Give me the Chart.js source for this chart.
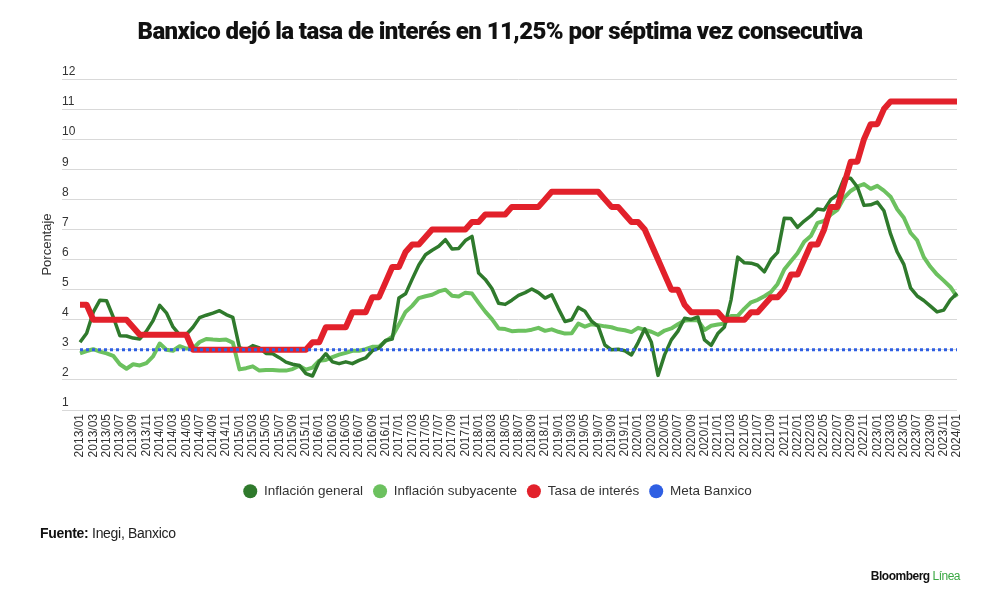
<!DOCTYPE html>
<html>
<head>
<meta charset="utf-8">
<script src="https://cdn.jsdelivr.net/npm/chart.js@4.4.1/dist/chart.umd.min.js"></script>
<style>
  html, body { margin: 0; padding: 0; background: #ffffff; }
  #wrap { position: relative; width: 1000px; height: 602px; overflow: hidden; background: #fff; }
  #chartBox { position: absolute; left: 0; top: 0; width: 1000px; height: 602px; }
  #title { position: absolute; top: 17px; left: 0; width: 1000px; text-align: center;
           font-family: Roboto, "Liberation Sans", Arial, sans-serif; font-weight: 900;
           font-size: 24px; line-height: 28px; color: #111; white-space: nowrap; }
  #src { position: absolute; left: 40px; top: 524px; font-family: "Liberation Sans", Arial, sans-serif;
         font-size: 14px; line-height: 18px; color: #222; letter-spacing: -0.3px; }
  #src b { font-weight: 700; color: #111; }
  #logo { position: absolute; right: 40px; top: 568px; font-family: "Liberation Sans", Arial, sans-serif;
          font-size: 12px; line-height: 16px; font-weight: 700; color: #111; letter-spacing: -0.5px; }
  #logo span { color: #3aa843; font-weight: 400; }
</style>
</head>
<body>
<div id="wrap">
  <div id="chartBox"><canvas id="c"></canvas></div>
  <div id="title">Banxico dejó la tasa de interés en 11,25% por séptima vez consecutiva</div>
  <div id="src"><b>Fuente:</b> Inegi, Banxico</div>
  <div id="logo">Bloomberg <span>Línea</span></div>
</div>
<script>
// ---- Data (monthly, 2013/01 – 2024/01) ----
const months = [
  "2013/01","2013/02","2013/03","2013/04","2013/05","2013/06","2013/07","2013/08","2013/09","2013/10","2013/11","2013/12",
  "2014/01","2014/02","2014/03","2014/04","2014/05","2014/06","2014/07","2014/08","2014/09","2014/10","2014/11","2014/12",
  "2015/01","2015/02","2015/03","2015/04","2015/05","2015/06","2015/07","2015/08","2015/09","2015/10","2015/11","2015/12",
  "2016/01","2016/02","2016/03","2016/04","2016/05","2016/06","2016/07","2016/08","2016/09","2016/10","2016/11","2016/12",
  "2017/01","2017/02","2017/03","2017/04","2017/05","2017/06","2017/07","2017/08","2017/09","2017/10","2017/11","2017/12",
  "2018/01","2018/02","2018/03","2018/04","2018/05","2018/06","2018/07","2018/08","2018/09","2018/10","2018/11","2018/12",
  "2019/01","2019/02","2019/03","2019/04","2019/05","2019/06","2019/07","2019/08","2019/09","2019/10","2019/11","2019/12",
  "2020/01","2020/02","2020/03","2020/04","2020/05","2020/06","2020/07","2020/08","2020/09","2020/10","2020/11","2020/12",
  "2021/01","2021/02","2021/03","2021/04","2021/05","2021/06","2021/07","2021/08","2021/09","2021/10","2021/11","2021/12",
  "2022/01","2022/02","2022/03","2022/04","2022/05","2022/06","2022/07","2022/08","2022/09","2022/10","2022/11","2022/12",
  "2023/01","2023/02","2023/03","2023/04","2023/05","2023/06","2023/07","2023/08","2023/09","2023/10","2023/11","2023/12",
  "2024/01"
];

const inflacionGeneral = [
  3.25, 3.55, 4.25, 4.65, 4.63, 4.09, 3.47, 3.46, 3.39, 3.36, 3.62, 3.97,
  4.48, 4.23, 3.76, 3.50, 3.51, 3.75, 4.07, 4.15, 4.22, 4.30, 4.17, 4.08,
  3.07, 3.00, 3.14, 3.06, 2.88, 2.87, 2.74, 2.59, 2.52, 2.48, 2.21, 2.13,
  2.61, 2.87, 2.60, 2.54, 2.60, 2.54, 2.65, 2.73, 2.97, 3.06, 3.31, 3.36,
  4.72, 4.86, 5.35, 5.82, 6.16, 6.31, 6.44, 6.66, 6.35, 6.37, 6.63, 6.77,
  5.55, 5.34, 5.04, 4.55, 4.51, 4.65, 4.81, 4.90, 5.02, 4.90, 4.72, 4.83,
  4.37, 3.94, 4.00, 4.41, 4.28, 3.95, 3.78, 3.16, 3.00, 3.02, 2.97, 2.83,
  3.24, 3.70, 3.25, 2.15, 2.84, 3.33, 3.62, 4.05, 4.01, 4.09, 3.33, 3.15,
  3.54, 3.76, 4.67, 6.08, 5.89, 5.88, 5.81, 5.59, 6.00, 6.24, 7.37, 7.36,
  7.07, 7.28, 7.45, 7.68, 7.65, 7.99, 8.15, 8.70, 8.70, 8.41, 7.80, 7.82,
  7.91, 7.62, 6.85, 6.25, 5.84, 5.06, 4.79, 4.64, 4.45, 4.26, 4.32, 4.66,
  4.88
];

const inflacionSubyacente = [
  2.88, 2.96, 3.02, 2.94, 2.88, 2.80, 2.52, 2.37, 2.52, 2.48, 2.56, 2.78,
  3.21, 3.00, 2.97, 3.12, 3.04, 3.04, 3.26, 3.36, 3.34, 3.33, 3.34, 3.24,
  2.35, 2.39, 2.45, 2.31, 2.33, 2.33, 2.31, 2.31, 2.36, 2.47, 2.34, 2.41,
  2.64, 2.66, 2.76, 2.84, 2.90, 2.97, 2.97, 3.02, 3.10, 3.10, 3.29, 3.44,
  3.84, 4.26, 4.46, 4.72, 4.78, 4.83, 4.94, 5.00, 4.80, 4.77, 4.90, 4.87,
  4.56, 4.27, 4.02, 3.71, 3.69, 3.62, 3.63, 3.63, 3.67, 3.73, 3.63, 3.68,
  3.60, 3.54, 3.55, 3.87, 3.77, 3.85, 3.82, 3.78, 3.75, 3.68, 3.65, 3.59,
  3.73, 3.66, 3.60, 3.50, 3.64, 3.71, 3.85, 3.97, 3.99, 3.98, 3.66, 3.80,
  3.84, 3.87, 4.12, 4.13, 4.37, 4.58, 4.66, 4.78, 4.92, 5.19, 5.67, 5.94,
  6.21, 6.59, 6.78, 7.22, 7.28, 7.49, 7.65, 8.05, 8.28, 8.42, 8.51, 8.35,
  8.45, 8.29, 8.09, 7.67, 7.39, 6.89, 6.64, 6.08, 5.76, 5.50, 5.30, 5.09,
  4.76
];

const tasaDeInteres = [
  4.50, 4.50, 4.00, 4.00, 4.00, 4.00, 4.00, 4.00, 3.75, 3.50, 3.50, 3.50,
  3.50, 3.50, 3.50, 3.50, 3.50, 3.00, 3.00, 3.00, 3.00, 3.00, 3.00, 3.00,
  3.00, 3.00, 3.00, 3.00, 3.00, 3.00, 3.00, 3.00, 3.00, 3.00, 3.00, 3.25,
  3.25, 3.75, 3.75, 3.75, 3.75, 4.25, 4.25, 4.25, 4.75, 4.75, 5.25, 5.75,
  5.75, 6.25, 6.50, 6.50, 6.75, 7.00, 7.00, 7.00, 7.00, 7.00, 7.00, 7.25,
  7.25, 7.50, 7.50, 7.50, 7.50, 7.75, 7.75, 7.75, 7.75, 7.75, 8.00, 8.25,
  8.25, 8.25, 8.25, 8.25, 8.25, 8.25, 8.25, 8.00, 7.75, 7.75, 7.50, 7.25,
  7.25, 7.00, 6.50, 6.00, 5.50, 5.00, 5.00, 4.50, 4.25, 4.25, 4.25, 4.25,
  4.25, 4.00, 4.00, 4.00, 4.00, 4.25, 4.25, 4.50, 4.75, 4.75, 5.00, 5.50,
  5.50, 6.00, 6.50, 6.50, 7.00, 7.75, 7.75, 8.50, 9.25, 9.25, 10.00, 10.50,
  10.50, 11.00, 11.25, 11.25, 11.25, 11.25, 11.25, 11.25, 11.25, 11.25, 11.25, 11.25,
  11.25
];

const metaBanxico = [
  3, 3, 3, 3, 3, 3, 3, 3, 3, 3, 3, 3,
  3, 3, 3, 3, 3, 3, 3, 3, 3, 3, 3, 3,
  3, 3, 3, 3, 3, 3, 3, 3, 3, 3, 3, 3,
  3, 3, 3, 3, 3, 3, 3, 3, 3, 3, 3, 3,
  3, 3, 3, 3, 3, 3, 3, 3, 3, 3, 3, 3,
  3, 3, 3, 3, 3, 3, 3, 3, 3, 3, 3, 3,
  3, 3, 3, 3, 3, 3, 3, 3, 3, 3, 3, 3,
  3, 3, 3, 3, 3, 3, 3, 3, 3, 3, 3, 3,
  3, 3, 3, 3, 3, 3, 3, 3, 3, 3, 3, 3,
  3, 3, 3, 3, 3, 3, 3, 3, 3, 3, 3, 3,
  3, 3, 3, 3, 3, 3, 3, 3, 3, 3, 3, 3,
  3
];

const seriesNames = ["Inflación general", "Inflación subyacente", "Tasa de interés", "Meta Banxico"];
const yTickValues = [1, 2, 3, 4, 5, 6, 7, 8, 9, 10, 11, 12];

// ---- Styles ----
const colGeneral = "#2f7a2c";
const colSub = "#6cc15f";
const colTasa = "#e2212b";
const colMeta = "#2f5fe3";

// Fit title width to reference (~725px)
(function fitTitle() {
  const t = document.getElementById('title');
  const span = document.createElement('span');
  span.textContent = t.textContent;
  t.textContent = '';
  t.appendChild(span);
  const w = span.getBoundingClientRect().width;
  const n = span.textContent.length;
  const ls = (725 - w) / n;
  span.style.letterSpacing = ls.toFixed(2) + 'px';
})();

Chart.defaults.font.family = "'Liberation Sans', Arial, sans-serif";
Chart.defaults.color = "#333";

const legendShift = {
  id: 'legendShift',
  afterLayout(chart) {
    if (chart.legend) { chart.legend.left -= 12; chart.legend.right -= 12; }
  }
};

new Chart(document.getElementById('c'), {
  type: 'line',
  plugins: [legendShift],
  data: {
    labels: months,
    datasets: [
      { label: seriesNames[0], data: inflacionGeneral, borderColor: colGeneral, backgroundColor: colGeneral,
        borderWidth: 3.5, pointRadius: 0, tension: 0, order: 3, borderJoinStyle: 'round' },
      { label: seriesNames[1], data: inflacionSubyacente, borderColor: colSub, backgroundColor: colSub,
        borderWidth: 4, pointRadius: 0, tension: 0, order: 4, borderJoinStyle: 'round' },
      { label: seriesNames[2], data: tasaDeInteres, borderColor: colTasa, backgroundColor: colTasa,
        borderWidth: 6, pointRadius: 0, tension: 0, order: 2, borderJoinStyle: 'round' },
      { label: seriesNames[3], data: metaBanxico, borderColor: colMeta, backgroundColor: colMeta,
        borderWidth: 3, borderDash: [3, 3], pointRadius: 0, tension: 0, order: 1 }
    ]
  },
  options: {
    responsive: true,
    maintainAspectRatio: false,
    animation: false,
    events: [],
    layout: { padding: { top: 79, left: 62, right: 43, bottom: 94 } },
    plugins: {
      tooltip: { enabled: false },
      title: { display: false },
      legend: {
        display: true,
        position: 'bottom',
        align: 'center',
        labels: {
          usePointStyle: true,
          pointStyle: 'circle',
          boxHeight: 10,
          pointStyleWidth: 14,
          padding: 10,
          color: '#333',
          font: { size: 13.5 },
          sort: (a, b) => a.datasetIndex - b.datasetIndex,
          generateLabels: (chart) => {
            const items = Chart.defaults.plugins.legend.labels.generateLabels(chart);
            return items.map(it => Object.assign(it, {
              lineDash: [], lineWidth: 0, strokeStyle: 'rgba(0,0,0,0)',
              fillStyle: chart.data.datasets[it.datasetIndex].borderColor
            }));
          }
        }
      }
    },
    scales: {
      x: {
        type: 'category',
        offset: false,
        grid: { display: false, drawTicks: false },
        border: { display: false },
        ticks: {
          autoSkip: false,
          minRotation: 90,
          maxRotation: 90,
          padding: 4,
          color: '#333',
          font: { size: 12 },
          callback: function (v, i) { return i % 2 === 0 ? months[i] : ''; }
        },
        afterFit: (s) => { s.height = 64.5; }
      },
      y: {
        min: 1,
        max: 12,
        afterBuildTicks: (s) => { s.ticks = yTickValues.map(v => ({ value: v })); },
        grid: { color: '#d9d9d9', lineWidth: 1, drawTicks: true, tickLength: 18, tickColor: '#d9d9d9' },
        border: { display: false },
        ticks: {
          crossAlign: 'far',
          padding: 0,
          labelOffset: -7,
          color: '#333',
          font: { size: 12 }
        },
        title: {
          display: true,
          text: 'Porcentaje',
          color: '#333',
          font: { size: 13 },
          padding: { top: -22, bottom: 0 }
        },
        afterFit: (s) => { s.width = 18; }
      }
    }
  }
});
</script>
</body>
</html>
